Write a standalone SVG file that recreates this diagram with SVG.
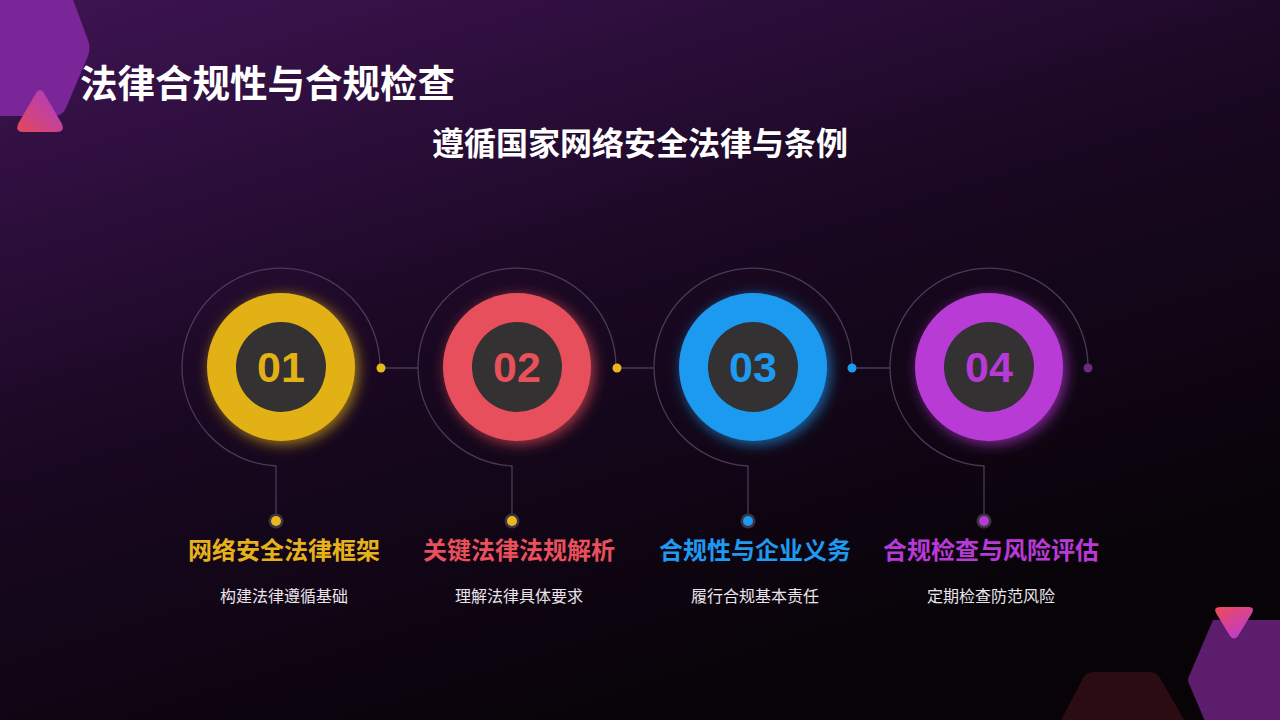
<svg xmlns="http://www.w3.org/2000/svg" width="1280" height="720" viewBox="0 0 1280 720">
  <defs>
    <linearGradient id="bg" x1="0" y1="0" x2="0.55" y2="1">
      <stop offset="0" stop-color="#3e1453"/>
      <stop offset="0.5" stop-color="#1a0822"/>
      <stop offset="1" stop-color="#070307"/>
    </linearGradient>
    <linearGradient id="triA" x1="0" y1="1" x2="1" y2="0">
      <stop offset="0" stop-color="#e5485a"/>
      <stop offset="1" stop-color="#a93ccc"/>
    </linearGradient>
    <linearGradient id="triB" x1="0" y1="0" x2="0.6" y2="1">
      <stop offset="0" stop-color="#ee4a58"/>
      <stop offset="1" stop-color="#c03ccc"/>
    </linearGradient>
    <filter id="glow" x="-30%" y="-30%" width="160%" height="160%">
      <feGaussianBlur in="SourceGraphic" stdDeviation="7" result="b"/>
      <feOffset in="b" dx="3" dy="3" result="o"/>
      <feComponentTransfer in="o" result="f"><feFuncA type="linear" slope="0.7"/></feComponentTransfer>
      <feMerge><feMergeNode in="f"/><feMergeNode in="SourceGraphic"/></feMerge>
    </filter>
    <style>
      .ring{fill:none;stroke:#4a3a58;stroke-width:1.3}
      .inner{fill:#333131}
      .num{font-family:"Liberation Sans",Arial,sans-serif;font-weight:bold;font-size:43px;text-anchor:middle}
      .lab{font-family:"Noto Sans CJK SC","Noto Sans",sans-serif;font-weight:bold;font-size:24px;text-anchor:middle}
      .sub{font-family:"Noto Sans CJK SC","Noto Sans",sans-serif;font-size:16px;fill:#e8e4ea;text-anchor:middle}
      .halo{fill:#3a3440}
    </style>
  </defs>
  <rect width="1280" height="720" fill="url(#bg)"/>

  <g id="decorations">
    <path d="M0,-10 L62,-10 Q68,-10 72,-3 L88,40 Q91,48 88,56 L66,108 Q62,116 54,116 L0,116 Z" fill="#7a2598"/>
    <path d="M36,93 Q40,87 44,93 L62,124 Q65,132 57,132 L23,132 Q15,132 18,124 Z" fill="url(#triA)"/>
    <path d="M1213,620 L1280,620 L1280,740 L1213,740 L1190,686 Q1186,680 1190,674 Z" fill="#5c1d6c"/>
    <path d="M1093,672 L1150,672 Q1157,672 1160,678 L1190,730 L1056,730 L1083,678 Q1086,672 1093,672 Z" fill="#2b0c12"/>
    <path d="M1220,607 L1249,607 Q1255,607 1252,613 L1238,636 Q1234,641 1230,636 L1216,613 Q1213,607 1220,607 Z" fill="url(#triB)"/>
  </g>

  <g id="title">
    <text x="80" y="97" font-family="'Noto Sans CJK SC','Noto Sans',sans-serif" font-weight="bold" font-size="37.5" fill="#ffffff">法律合规性与合规检查</text>
    <text x="640" y="155" font-family="'Noto Sans CJK SC','Noto Sans',sans-serif" font-weight="bold" font-size="32" fill="#ffffff" text-anchor="middle">遵循国家网络安全法律与条例</text>
  </g>

  <g id="connectors">
    <path class="ring" d="M380,368 A99,99 0 1 0 276,466 L276,521"/>
    <path class="ring" d="M616,368 A99,99 0 1 0 512,466 L512,521"/>
    <path class="ring" d="M852,368 A99,99 0 1 0 748,466 L748,521"/>
    <path class="ring" d="M1088,368 A99,99 0 1 0 984,466 L984,521"/>
    <line class="ring" x1="380" y1="368" x2="418" y2="368"/>
    <line class="ring" x1="616" y1="368" x2="654" y2="368"/>
    <line class="ring" x1="852" y1="368" x2="890" y2="368"/>
  </g>

  <g id="node1">
    <circle cx="281" cy="367" r="74" fill="#e2b116" filter="url(#glow)"/>
    <circle class="inner" cx="281" cy="367" r="45"/>
    <text class="num" x="281" y="382" fill="#e2b116">01</text>
    <circle cx="381" cy="368" r="4.5" fill="#e8b81e"/>
    <circle class="halo" cx="276" cy="521" r="7.5"/>
    <circle cx="276" cy="521" r="5" fill="#e8b81e"/>
    <text class="lab" x="284" y="559" fill="#e6b21c">网络安全法律框架</text>
    <text class="sub" x="284" y="602">构建法律遵循基础</text>
  </g>

  <g id="node2">
    <circle cx="517" cy="367" r="74" fill="#e8505b" filter="url(#glow)"/>
    <circle class="inner" cx="517" cy="367" r="45"/>
    <text class="num" x="517" y="382" fill="#e8505b">02</text>
    <circle cx="617" cy="368" r="4.5" fill="#e8b81e"/>
    <circle class="halo" cx="512" cy="521" r="7.5"/>
    <circle cx="512" cy="521" r="5" fill="#e8b81e"/>
    <text class="lab" x="519" y="559" fill="#e8505b">关键法律法规解析</text>
    <text class="sub" x="519" y="602">理解法律具体要求</text>
  </g>

  <g id="node3">
    <circle cx="753" cy="367" r="74" fill="#1e9af0" filter="url(#glow)"/>
    <circle class="inner" cx="753" cy="367" r="45"/>
    <text class="num" x="753" y="382" fill="#1e9af0">03</text>
    <circle cx="852" cy="368" r="4.5" fill="#1e9af0"/>
    <circle class="halo" cx="748" cy="521" r="7.5"/>
    <circle cx="748" cy="521" r="5" fill="#1e9af0"/>
    <text class="lab" x="755" y="559" fill="#1e9af0">合规性与企业义务</text>
    <text class="sub" x="755" y="602">履行合规基本责任</text>
  </g>

  <g id="node4">
    <circle cx="989" cy="367" r="74" fill="#b83ad6" filter="url(#glow)"/>
    <circle class="inner" cx="989" cy="367" r="45"/>
    <text class="num" x="989" y="382" fill="#b83ad6">04</text>
    <circle cx="1088" cy="368" r="4.5" fill="#6a2b7c"/>
    <circle class="halo" cx="984" cy="521" r="7.5"/>
    <circle cx="984" cy="521" r="5" fill="#b83ad6"/>
    <text class="lab" x="991" y="559" fill="#b83ad6">合规检查与风险评估</text>
    <text class="sub" x="991" y="602">定期检查防范风险</text>
  </g>
</svg>
